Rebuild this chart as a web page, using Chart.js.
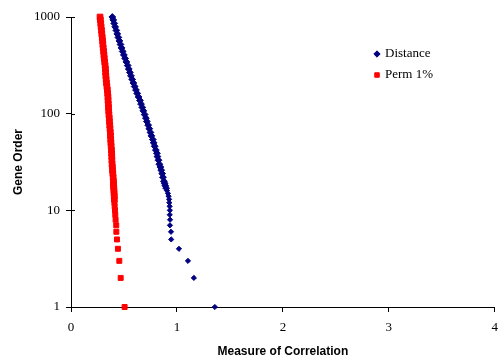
<!DOCTYPE html>
<html><head><meta charset="utf-8">
<script src="https://cdn.jsdelivr.net/npm/chart.js@4"></script>
<style>html,body{margin:0;padding:0;background:#fff;overflow:hidden}#wrap{width:500px;height:360px;position:relative;overflow:hidden}</style>
</head><body><div id="wrap"><canvas id="c" width="506" height="360"></canvas></div>
<script>
const seriesNames = ['Distance', 'Perm 1%'];
const geneOrder = [1,2,3,4,5,6,7,8,9,10,11,12,13,14,15,16,17,18,19,20,
  22,24,26,28,30,33,36,39,42,46,50,54,59,64,70,76,83,90,98,107,
  116,126,137,149,162,176,191,208,226,246,267,290,315,343,373,
  405,440,479,520,566,615,668,726,790,858,933,1000];
const distanceValues = [1.358,1.160,1.104,1.019,0.946,0.944,0.934,0.935,0.932,0.933,0.931,0.928,0.926,0.921,0.915,0.906,0.898,0.890,0.884,0.877,
  0.868,0.861,0.852,0.844,0.834,0.826,0.816,0.811,0.801,0.790,0.780,0.772,0.759,0.750,0.739,0.729,0.716,0.707,0.695,0.683,
  0.673,0.661,0.651,0.638,0.625,0.613,0.601,0.589,0.578,0.566,0.556,0.545,0.535,0.523,0.511,
  0.499,0.488,0.477,0.467,0.457,0.447,0.437,0.428,0.417,0.408,0.399,0.390];
const permValues = [0.506,0.469,0.456,0.443,0.434,0.428,0.427,0.421,0.418,0.415,0.412,0.410,0.409,0.408,0.407,0.405,0.404,0.402,0.401,0.400,
  0.398,0.395,0.392,0.390,0.388,0.386,0.385,0.384,0.382,0.379,0.377,0.375,0.373,0.371,0.368,0.366,0.363,0.361,0.358,0.356,
  0.354,0.352,0.350,0.349,0.346,0.343,0.339,0.335,0.332,0.329,0.327,0.325,0.322,0.318,0.314,
  0.311,0.308,0.304,0.301,0.298,0.295,0.291,0.288,0.284,0.281,0.277,0.274];
const xTickValues = [0,1,2,3,4];
const yTickValues = [1,10,100,1000];

const toPoints = vals => vals.map((v, i) => ({x: v, y: geneOrder[i]}));

const crossTicks = {
  id: 'crossTicks',
  afterDraw(chart) {
    const ys = chart.scales.y, ctx = chart.ctx;
    ctx.save(); ctx.strokeStyle = '#000'; ctx.lineWidth = 1;
    ys.ticks.forEach(t => {
      const py = Math.round(ys.getPixelForValue(t.value)) + 0.5;
      ctx.beginPath(); ctx.moveTo(ys.right, py); ctx.lineTo(ys.right + 4, py); ctx.stroke();
    });
    ctx.restore();
  }
};
const legendPlace = {
  id: 'legendPlace',
  afterLayout(chart) {
    const lg = chart.legend; const w = lg.width, h = lg.height;
    lg.left = 367.5; lg.top = 39.5; lg.right = lg.left + w; lg.bottom = lg.top + h;
  }
};

const serif = 'Liberation Serif, Times New Roman, serif';
const sans = 'Liberation Sans, Arial, sans-serif';

new Chart(document.getElementById('c'), {
  type: 'scatter',
  data: {
    datasets: [
      {label: seriesNames[0], data: toPoints(distanceValues), pointStyle: 'rectRot',
       pointRadius: c => (c.raw && c.raw.y > 16 ? 3.4 : 2.6),
       backgroundColor: '#000080', borderColor: '#000080', borderWidth: 1, clip: 10},
      {label: seriesNames[1], data: toPoints(permValues), pointStyle: 'rect',
       pointRadius: c => (c.raw && c.raw.y > 12 ? 4 : 3.5),
       backgroundColor: '#ff0000', borderColor: '#ff0000', borderWidth: 1, clip: 10}
    ]
  },
  plugins: [crossTicks, legendPlace],
  options: {
    responsive: false, animation: false, devicePixelRatio: 1,
    layout: {padding: {top: 17, right: 0, left: 0, bottom: 0}},
    plugins: {
      tooltip: {enabled: false},
      legend: {position: 'chartArea', align: 'start',
        labels: {usePointStyle: true, boxWidth: 3, boxHeight: 4.5, padding: 8, color: '#000',
          font: {family: serif, size: 13}}}
    },
    scales: {
      x: {type: 'linear', min: 0, max: 4,
        afterBuildTicks: s => { s.ticks = xTickValues.map(v => ({value: v})); },
        ticks: {color: '#000', padding: 8, font: {family: serif, size: 13}},
        grid: {drawOnChartArea: false, drawTicks: true, tickLength: 5, color: '#000'},
        border: {display: true, color: '#000', width: 1},
        title: {display: true, text: 'Measure of Correlation', color: '#000',
          font: {family: sans, size: 12, weight: 'bold'}, padding: {top: 0, bottom: 1}},
        afterFit: s => { s.height = 53; }
      },
      y: {type: 'logarithmic', min: 1, max: 1000,
        afterBuildTicks: s => { s.ticks = yTickValues.map(v => ({value: v})); },
        ticks: {color: '#000', padding: 6, font: {family: serif, size: 13}, callback: v => String(v)},
        grid: {drawOnChartArea: false, drawTicks: true, tickLength: 5, color: '#000'},
        border: {display: true, color: '#000', width: 1},
        title: {display: true, text: 'Gene Order', color: '#000',
          font: {family: sans, size: 12, weight: 'bold'}, padding: {top: 11, bottom: 0}},
        afterFit: s => { s.width = 71; }
      }
    }
  }
});
</script></body></html>
